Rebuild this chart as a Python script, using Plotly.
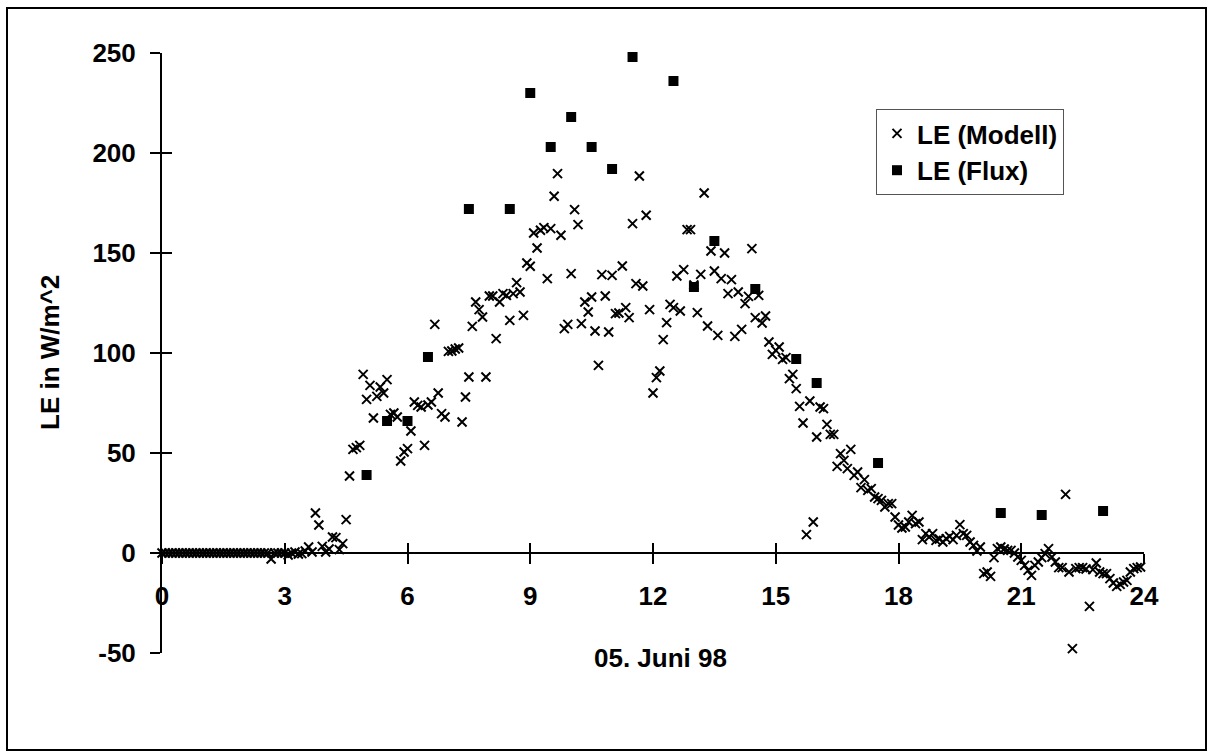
import plotly.graph_objects as go

# ---- data ----
modell_hours = [h + m / 60 for h in range(24) for m in range(0, 60, 5)]
modell_le = [
    # 0 h
    0, 0, 0, 0, 0, 0, 0, 0, 0, 0, 0, 0,
    # 1 h
    0, 0, 0, 0, 0, 0, 0, 0, 0, 0, 0, 0,
    # 2 h
    0, 0, 0, 0, 0, 0, 0, 0, -3, 0, 0, 0,
    # 3 h
    0, -1, 0, 0.5, -0.5, -0.3, 1, 3, 0.5, 20, 14, 3.3,
    # 4 h
    0.5, 2, 8, 7.7, 1.7, 4.7, 16.7, 38.5, 51.8, 52.7, 53.8, 89.3,
    # 5 h
    76.8, 83.8, 67.5, 78.3, 83, 80, 86.7, 69.3, 70, 68, 46, 50.5,
    # 6 h
    52.2, 61, 75.5, 73.8, 73, 53.8, 74, 75.5, 114.3, 80, 69.7, 68,
    # 7 h
    100.8, 101, 102, 102.5, 65.5, 78, 88, 113.3, 125.5, 121.7, 118, 88,
    # 8 h
    128.5, 128.5, 107.2, 125.5, 129.7, 128.8, 116.3, 129.7, 135.2, 130.5, 118.8, 145,
    # 9 h
    143.4, 160, 152.5, 161.4, 162.7, 137.2, 162.2, 178.4, 189.7, 158.9, 112.2, 114.3,
    # 10 h
    139.7, 171.7, 164.2, 114.7, 125.5, 120.5, 128, 111, 93.8, 139.2, 128.5, 110.5,
    # 11 h
    138.8, 119.7, 120, 143.5, 122.7, 117.7, 164.7, 134.7, 188.5, 133.5, 168.9, 121.7,
    # 12 h
    80, 87.7, 91, 106.7, 115.2, 124.3, 122.7, 138.5, 121, 141.7, 161.7, 161.7,
    # 13 h
    134, 120.2, 139.3, 180, 113.5, 151, 141, 108.8, 137.2, 150, 129.7, 136.7,
    # 14 h
    108.3, 130.5, 111.8, 124.7, 128.3, 152.2, 117.7, 128.8, 115, 118.5, 105.5, 99.3,
    # 15 h
    101.3, 103, 96.8, 97.7, 87.2, 89.3, 82.2, 73.3, 65, 9.2, 76, 15.5,
    # 16 h
    58, 73, 72.2, 64.3, 59.3, 59.3, 43.3, 49.7, 46.3, 42.2, 51.8, 38.8,
    # 17 h
    40.5, 32.7, 36.7, 31.3, 32.2, 28, 27.2, 26.3, 23, 24.7, 24.7, 18,
    # 18 h
    14, 12.5, 13, 15.5, 18.8, 14.7, 15.5, 6.7, 9.7, 8, 9.7, 6.3,
    # 19 h
    7, 5.5, 7.2, 8.3, 6.7, 8.8, 14.2, 9.7, 8.8, 5.5, 3.8, 1,
    # 20 h
    3, -10.3, -9.5, -11.7, -2.3, 2.2, 3, 2, 1.3, 1.3, 0, -2,
    # 21 h
    -3.7, -6.2, -8.7, -11.2, -6.2, -4.5, -2.3, -0.3, 2.2, -2, -4.5, -7.3,
    # 22 h
    -7.3, 29.3, -9.5, -47.8, -7.8, -7.3, -7.3, -8, -26.7, -8.3, -5, -9.5,
    # 23 h
    -10.3, -10.3, -12.8, -15, -16.7, -15.7, -14.5, -13.7, -9.5, -7.8, -7.3, -7,
]

flux_hours = [5, 5.5, 6, 6.5, 7.5, 8.5, 9, 9.5, 10, 10.5, 11, 11.5,
              12.5, 13, 13.5, 14.5, 15.5, 16, 17.5, 20.5, 21.5, 23]
flux_le = [39, 66, 66, 98, 172, 172, 230, 203, 218, 203, 192, 248,
           236, 133, 156, 132, 97, 85, 45, 20, 19, 21]

x_ticks = [0, 3, 6, 9, 12, 15, 18, 21, 24]
x_tick_labels = ["0", "3", "6", "9", "12", "15", "18", "21", "24"]
y_ticks = [-50, 0, 50, 100, 150, 200, 250]
y_tick_labels = ["-50", "0", "50", "100", "150", "200", "250"]

# ---- figure ----
W, H = 1208, 752
ML, MR, MT, MB = 162, 64, 53, 99
FONT = dict(family="Liberation Sans, Arial, sans-serif", size=26, color="black", weight=700)

fig = go.Figure()
fig.add_trace(go.Scatter(
    x=modell_hours, y=modell_le, mode="markers", name="LE (Modell)",
    marker=dict(symbol="x-thin", size=9, color="black", line=dict(color="black", width=2)),
    cliponaxis=False,
))
fig.add_trace(go.Scatter(
    x=flux_hours, y=flux_le, mode="markers", name="LE (Flux)",
    marker=dict(symbol="square", size=10, color="black"),
    cliponaxis=False,
))

pw = W - ML - MR
ph = H - MT - MB
ypos0 = (0 - y_ticks[0]) / (y_ticks[-1] - y_ticks[0])

axis_common = dict(showgrid=False, zeroline=False, linecolor="black", linewidth=2,
                   tickcolor="black", tickwidth=2, ticklen=10, tickfont=FONT)

fig.update_layout(
    width=W, height=H, autosize=False,
    margin=dict(l=ML, r=MR, t=MT, b=MB),
    paper_bgcolor="white", plot_bgcolor="white",
    font=FONT,
    showlegend=True,
    legend=dict(
        x=(876 - ML) / pw, y=(H - MB - 109) / ph, xanchor="left", yanchor="top",
        bordercolor="#555555", borderwidth=1, bgcolor="white",
        font=FONT, itemsizing="trace", tracegroupgap=0,
    ),
    xaxis=dict(range=[x_ticks[0], x_ticks[-1]], tickvals=x_ticks, ticktext=x_tick_labels,
               ticks="outside", showline=True, anchor="free", position=ypos0,
               ticklabelstandoff=10, **axis_common),
    xaxis2=dict(range=[x_ticks[0], x_ticks[-1]], tickvals=x_ticks, ticks="inside",
                overlaying="x", matches="x", anchor="free", position=ypos0,
                showticklabels=False, showline=False, showgrid=False, zeroline=False,
                tickcolor="black", tickwidth=2, ticklen=10),
    yaxis=dict(range=[y_ticks[0], y_ticks[-1]], tickvals=y_ticks, ticktext=y_tick_labels,
               ticks="outside", showline=True, ticklabelstandoff=9, **axis_common),
    yaxis2=dict(range=[y_ticks[0], y_ticks[-1]], tickvals=y_ticks, ticks="inside",
                overlaying="y", matches="y", anchor="x", side="left",
                showticklabels=False, showline=False, showgrid=False, zeroline=False,
                tickcolor="black", tickwidth=2, ticklen=10),
)

# dummy trace to activate the overlay axes (inner tick halves)
fig.add_trace(go.Scatter(x=[None], y=[None], xaxis="x2", yaxis="y2", showlegend=False,
                         hoverinfo="skip"))

fig.add_annotation(text="LE in W/m^2", textangle=-90, xref="paper", yref="paper",
                   x=(50 - ML) / pw, y=0.5, xanchor="center", yanchor="middle",
                   showarrow=False, font=FONT)
fig.add_annotation(text="05. Juni 98", xref="paper", yref="paper",
                   x=(660 - ML) / pw, y=(H - MB - 658) / ph, xanchor="center", yanchor="middle",
                   showarrow=False, font=FONT)

# outer frame of the chart
fig.add_shape(type="rect", xref="paper", yref="paper",
              x0=(7 - ML) / pw, x1=(1206 - ML) / pw,
              y0=(H - MB - 750) / ph, y1=(H - MB - 8) / ph,
              line=dict(color="black", width=2), fillcolor="rgba(0,0,0,0)", layer="below")

fig.write_html("out.html")
